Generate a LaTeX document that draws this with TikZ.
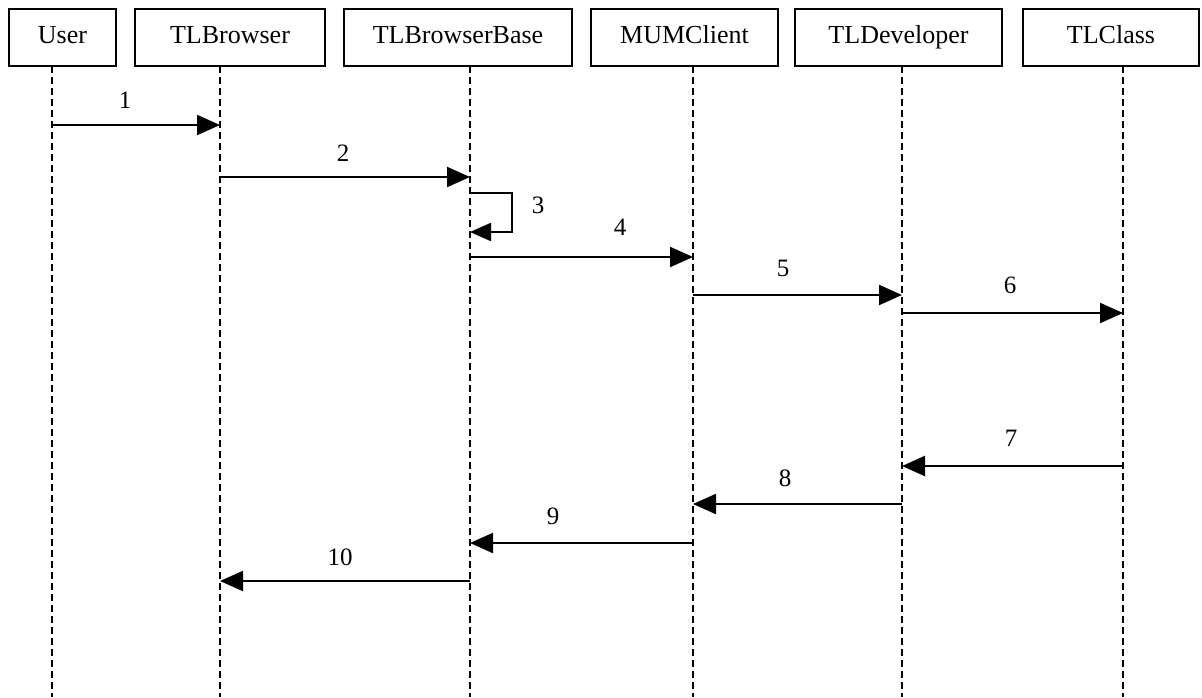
\documentclass[tikz,border=0pt]{standalone}
\usepackage{fontspec}
\setmainfont{Liberation Serif}
\usetikzlibrary{arrows.meta}
\begin{document}
\begin{tikzpicture}[x=1pt,y=-1pt,
  objbox/.style={draw,line width=2pt,minimum height=57pt,inner sep=0pt,text height=17pt,text depth=5pt,font=\fontsize{26}{28}\selectfont},
  lifeline/.style={line width=2.2pt,dash pattern=on 7pt off 4pt},
  msg/.style={line width=2.2pt,-{Triangle[length=23pt,width=20pt]}},
  lbl/.style={font=\fontsize{25}{27}\selectfont,inner sep=0pt}]
\useasboundingbox (0,0) rectangle (1202,697);
% boxes
\node[objbox,minimum width=107pt] (bu) at (62.5,37) {User};
\node[objbox,minimum width=190pt] (bb) at (230,37) {TLBrowser};
\node[objbox,minimum width=228pt] (bbb) at (458,37) {TLBrowserBase};
\node[objbox,minimum width=187pt] (bm) at (684.5,37) {MUMClient};
\node[objbox,minimum width=207pt] (bd) at (898.5,37) {TLDeveloper};
\node[objbox,minimum width=176pt] (bc) at (1111,37) {TLClass};
% lifeline tops and bottoms
\coordinate (lu) at (52,66);   \coordinate (lue) at (52,697);
\coordinate (lb) at (220,66);  \coordinate (lbe) at (220,697);
\coordinate (lbb) at (470,66); \coordinate (lbbe) at (470,697);
\coordinate (lm) at (693,66);  \coordinate (lme) at (693,697);
\coordinate (ld) at (902,66);  \coordinate (lde) at (902,697);
\coordinate (lc) at (1123,66); \coordinate (lce) at (1123,697);
\foreach \a/\b in {lu/lue,lb/lbe,lbb/lbbe,lm/lme,ld/lde,lc/lce}
  \draw[lifeline] (\a) -- (\b);
% message levels
\coordinate (y1) at (0,125);
\coordinate (y2) at (0,177);
\coordinate (y3a) at (0,193);
\coordinate (y3b) at (0,232);
\coordinate (y4) at (0,257);
\coordinate (y5) at (0,295);
\coordinate (y6) at (0,313);
\coordinate (y7) at (0,466);
\coordinate (y8) at (0,504);
\coordinate (y9) at (0,543);
\coordinate (y10) at (0,581);
\coordinate (loop) at (512,0);
% messages
\draw[msg] (lu |- y1) -- (lb |- y1);
\draw[msg] (lb |- y2) -- (lbb |- y2);
\draw[msg,-{Triangle[length=21pt,width=18pt]}] (lbb |- y3a) -- (loop |- y3a) -- (loop |- y3b) -- (lbb |- y3b);
\draw[msg] (lbb |- y4) -- (lm |- y4);
\draw[msg] (lm |- y5) -- (ld |- y5);
\draw[msg] (ld |- y6) -- (lc |- y6);
\draw[msg] (lc |- y7) -- (ld |- y7);
\draw[msg] (ld |- y8) -- (lm |- y8);
\draw[msg] (lm |- y9) -- (lbb |- y9);
\draw[msg] (lbb |- y10) -- (lb |- y10);
% labels
\node[lbl] (n1) at (125,100) {1};
\node[lbl] (n2) at (343,153) {2};
\node[lbl] (n3) at (538,205) {3};
\node[lbl] (n4) at (620,227) {4};
\node[lbl] (n5) at (783,268) {5};
\node[lbl] (n6) at (1010,285) {6};
\node[lbl] (n7) at (1011,438) {7};
\node[lbl] (n8) at (785,478) {8};
\node[lbl] (n9) at (553,516) {9};
\node[lbl] (n10) at (340,557) {10};
\end{tikzpicture}
\end{document}
